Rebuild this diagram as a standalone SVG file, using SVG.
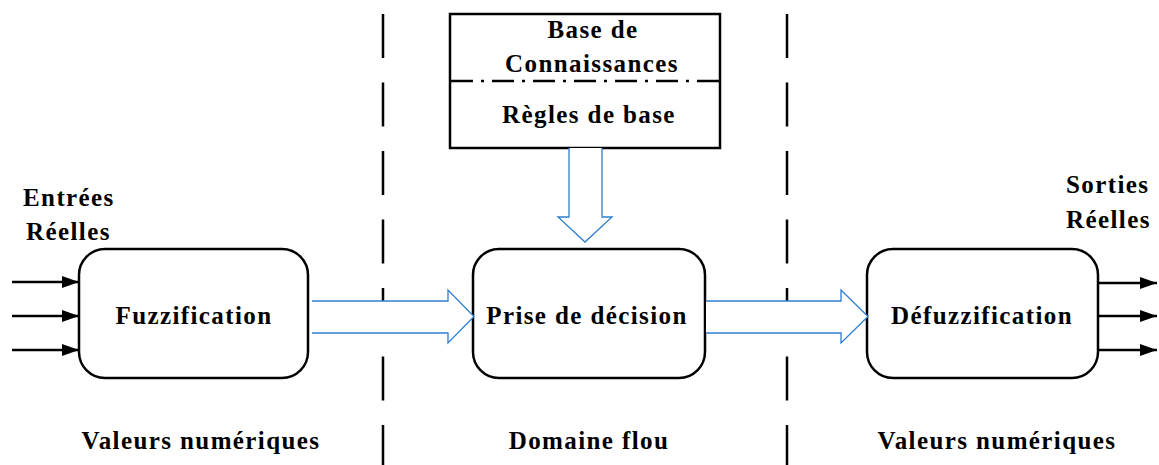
<svg xmlns="http://www.w3.org/2000/svg" width="1159" height="465" viewBox="0 0 1159 465">
  <style>
    text { font-family: 'Liberation Serif', 'Times New Roman', 'DejaVu Serif', serif; font-weight: 700; font-size: 25px; letter-spacing: 1.4px; fill: #000; }
    .c { text-anchor: middle; }
    .box { fill: #fff; stroke: #000; stroke-width: 2.5; }
    .sep { stroke: #000; stroke-width: 2.5; stroke-dasharray: 44 24.5; fill: none; }
    .io { stroke: #000; stroke-width: 2.5; fill: none; marker-end: url(#tri); }
    .flow { fill: #fff; stroke: #2e7fd0; stroke-width: 1.3; stroke-linejoin: miter; }
  </style>
  <defs>
    <marker id="tri" markerWidth="18" markerHeight="14" refX="17" refY="7" orient="auto" markerUnits="userSpaceOnUse">
      <path d="M0,1 L17,7 L0,13 Z" fill="#000"/>
    </marker>
  </defs>
  <rect width="1159" height="465" fill="#fff"/>

  <!-- domain separators -->
  <g id="separators">
    <line class="sep" x1="383" y1="14" x2="383" y2="465"/>
    <line class="sep" x1="787" y1="14" x2="787" y2="465"/>
  </g>

  <!-- knowledge base -->
  <g id="knowledge-base">
    <rect class="box" x="450" y="14" width="270" height="134"/>
    <line x1="451" y1="81" x2="719" y2="81" stroke="#000" stroke-width="2.5" stroke-dasharray="22 8 3 8"/>
    <text class="c" x="593" y="38">Base de</text>
    <text class="c" x="592" y="72">Connaissances</text>
    <text class="c" x="589" y="123">Règles de base</text>
  </g>

  <g id="fuzzification">
    <rect class="box" x="79" y="249" width="229" height="129" rx="26"/>
    <text class="c" x="194" y="324">Fuzzification</text>
  </g>

  <g id="decision">
    <rect class="box" x="473" y="249" width="232" height="129" rx="26"/>
    <text class="c" x="587" y="324">Prise de décision</text>
  </g>

  <g id="defuzzification">
    <rect class="box" x="867" y="249" width="231" height="129" rx="26"/>
    <text class="c" x="982" y="324">Défuzzification</text>
  </g>

  <!-- connectors -->
  <g id="connectors">
    <path class="flow" d="M569,148 V217 H558 L585,242 L612,217 H602 V148"/>
    <path class="flow" d="M312,301 H448 V290 L474,316.5 L448,343 V333 H312"/>
    <path class="flow" d="M706,301 H841 V290 L868,316.5 L841,343 V333 H706"/>
    <line class="io" x1="12" y1="282" x2="79" y2="282"/>
    <line class="io" x1="12" y1="316" x2="79" y2="316"/>
    <line class="io" x1="12" y1="350" x2="79" y2="350"/>
    <line class="io" x1="1098" y1="283" x2="1157" y2="283"/>
    <line class="io" x1="1098" y1="316" x2="1157" y2="316"/>
    <line class="io" x1="1098" y1="350" x2="1157" y2="350"/>
  </g>

  <g id="io-labels">
    <text x="23" y="206">Entrées</text>
    <text x="26" y="240">Réelles</text>
    <text x="1066" y="193">Sorties</text>
    <text x="1066" y="228">Réelles</text>
  </g>

  <g id="domain-labels">
    <text class="c" x="201" y="449">Valeurs numériques</text>
    <text class="c" x="589" y="449">Domaine flou</text>
    <text class="c" x="997" y="449">Valeurs numériques</text>
  </g>
</svg>
